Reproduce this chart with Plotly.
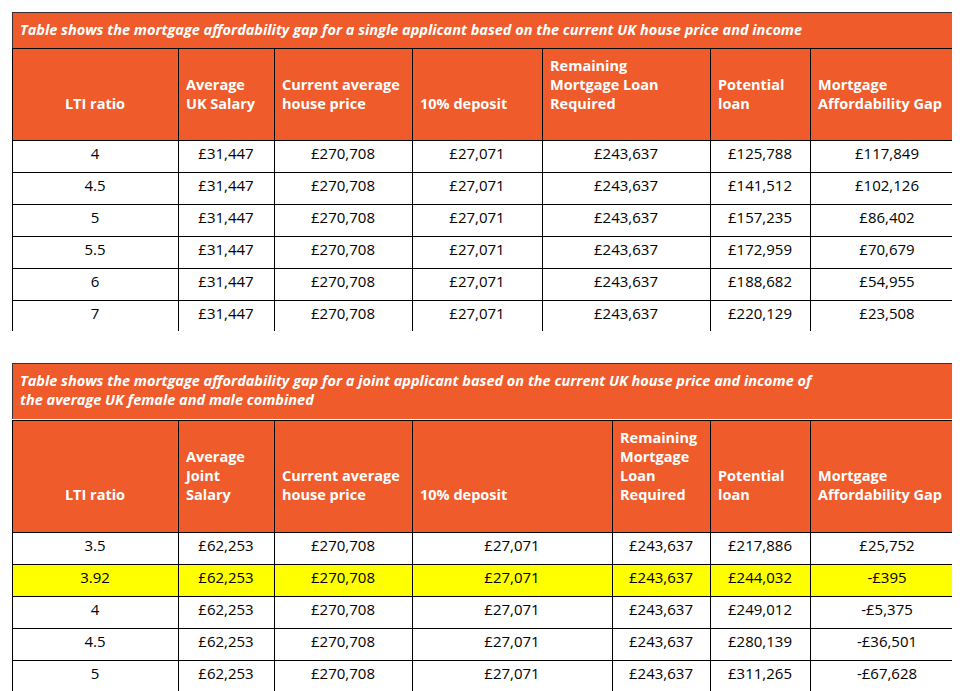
import plotly.graph_objects as go

ORANGE = "#EF5B2B"
FONT = "Open Sans"

title1 = "Table shows the mortgage affordability gap for a single applicant based on the current UK house price and income"
title2 = ("Table shows the mortgage affordability gap for a joint applicant based on the current UK house price and income of"
          "<br>the average UK female and male combined")

head1 = [["LTI ratio"], ["Average", "UK Salary"], ["Current average", "house price"], ["10% deposit"],
         ["Remaining", "Mortgage Loan", "Required"], ["Potential", "loan"], ["Mortgage", "Affordability Gap"]]
head2 = [["LTI ratio"], ["Average", "Joint", "Salary"], ["Current average", "house price"], ["10% deposit"],
         ["Remaining", "Mortgage", "Loan", "Required"], ["Potential", "loan"], ["Mortgage", "Affordability Gap"]]

lti1 = ["4", "4.5", "5", "5.5", "6", "7"]
salary1 = ["£31,447"] * 6
price1 = ["£270,708"] * 6
deposit1 = ["£27,071"] * 6
remaining1 = ["£243,637"] * 6
loan1 = ["£125,788", "£141,512", "£157,235", "£172,959", "£188,682", "£220,129"]
gap1 = ["£117,849", "£102,126", "£86,402", "£70,679", "£54,955", "£23,508"]

lti2 = ["3.5", "3.92", "4", "4.5", "5"]
salary2 = ["£62,253"] * 5
price2 = ["£270,708"] * 5
deposit2 = ["£27,071"] * 5
remaining2 = ["£243,637"] * 5
loan2 = ["£217,886", "£244,032", "£249,012", "£280,139", "£311,265"]
gap2 = ["£25,752", "-£395", "-£5,375", "-£36,501", "-£67,628"]
highlight_row = 1

widths1 = [166, 96, 138, 130, 168, 100, 154]
widths2 = [166, 96, 138, 200, 98, 100, 154]

H = 691


def dom(top, bottom):
    return [1 - bottom / H, 1 - top / H]


def header_text(cols):
    n = max(len(c) for c in cols)
    return ["<br>".join(["&nbsp;"] * (n - len(c)) + ["<b>%s</b>" % s for s in c]) for c in cols]


def title_table(text, top, bottom):
    return go.Table(
        domain=dict(x=[4 / 960, 956 / 960], y=dom(top, bottom)),
        header=dict(values=["<b><i>%s</i></b>" % text], fill_color=ORANGE, align="left",
                    line=dict(color="#333", width=1), font=dict(family=FONT, size=14.5, color="white"),
                    height=bottom - top),
    )


def body_table(heads, cols, widths, top, bottom, hh, fills):
    return go.Table(
        domain=dict(x=[4 / 960, 956 / 960], y=dom(top, bottom)),
        columnwidth=widths,
        header=dict(values=header_text(heads), fill_color=ORANGE,
                    align=["center"] + ["left"] * 6, height=hh,
                    line=dict(color="black", width=1), font=dict(family=FONT, size=14.5, color="white")),
        cells=dict(values=cols, fill_color=fills, align="center", height=32,
                   line=dict(color="black", width=1), font=dict(family=FONT, size=15, color="black")),
    )


fills2 = [["#FFFF00" if i == highlight_row else "white" for i in range(len(lti2))]] * 7

fig = go.Figure([
    title_table(title1, 4, 40),
    body_table(head1, [lti1, salary1, price1, deposit1, remaining1, loan1, gap1], widths1, 40, 324, 92, "white"),
    title_table(title2, 355, 412),
    body_table(head2, [lti2, salary2, price2, deposit2, remaining2, loan2, gap2], widths2, 412, 684, 112, fills2),
])
fig.update_layout(width=960, height=691, margin=dict(l=0, r=0, t=0, b=0), paper_bgcolor="white")
fig.write_html("out.html")
